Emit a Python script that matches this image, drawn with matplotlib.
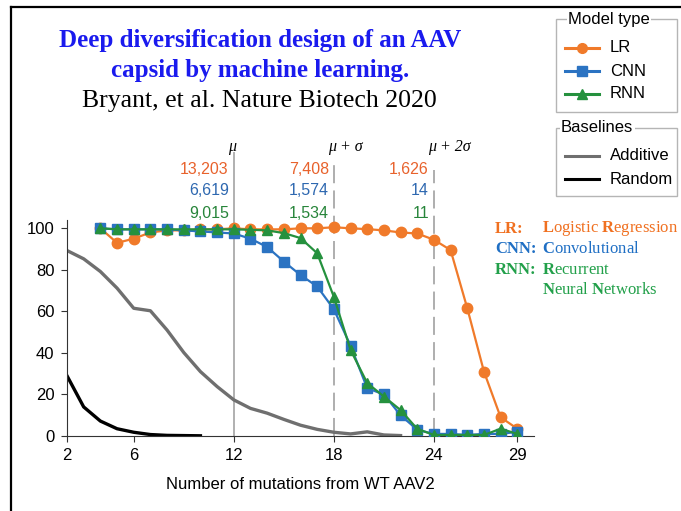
import matplotlib.pyplot as plt
from matplotlib.lines import Line2D
from matplotlib.patches import Rectangle

plt.rcParams['font.family'] = ['Liberation Sans', 'DejaVu Sans']
plt.rcParams['mathtext.fontset'] = 'custom'
plt.rcParams['mathtext.rm'] = 'Liberation Serif'
plt.rcParams['mathtext.bf'] = 'Liberation Serif:bold'

# data
x_models = list(range(4, 30))
lr = [100, 93, 95, 98, 99, 99, 99.5, 99.5, 100, 99.5, 99.5, 99.5, 100, 100, 100.5,
      100, 99.6, 99, 98, 97.5, 94.5, 89.5, 61.5, 31, 9, 3.5]
cnn = [100, 99.5, 99.5, 99.5, 99.5, 99, 98.5, 98, 97.5, 95, 91, 84, 77.5, 72, 61,
       43.5, 23, 20, 10, 3, 1, 1, 0.5, 1, 1, 2]
rnn = [100, 99.5, 99.5, 99.5, 99.5, 99.5, 99.5, 99.5, 99.5, 99.3, 99, 97.7, 95.3, 88, 67,
       41.5, 25.5, 19, 12.5, 3.4, 0.5, 0.5, 0.5, 0.5, 3.5, 1]

x_additive = list(range(2, 23))
additive = [89.3, 85.3, 79.2, 71.2, 61.5, 60.3, 51, 40.2, 31, 23.8, 17.4, 13.3, 11, 8,
            5.2, 3.2, 1.8, 1, 2, 0.5, 0.2]
x_random = list(range(2, 11))
random_bl = [29, 14, 7.2, 3.5, 1.8, 0.7, 0.3, 0.2, 0.1]

thresholds = [12, 18, 24]
threshold_names = ['\u03bc', '\u03bc + \u03c3', '\u03bc + 2\u03c3']
lr_counts = ['13,203', '7,408', '1,626']
cnn_counts = ['6,619', '1,574', '14']
rnn_counts = ['9,015', '1,534', '11']

xticks = [2, 6, 12, 18, 24, 29]
yticks = [0, 20, 40, 60, 80, 100]

c_lr = '#f07a2a'
c_cnn = '#2b73c2'
c_rnn = '#25913e'
c_lr_txt = '#e8622c'
c_cnn_txt = '#2e68b0'
c_rnn_txt = '#27853a'

W, H = 681, 511
fig = plt.figure(figsize=(W / 100, H / 100), dpi=100)


def fx(x):
    return x / W


def fy(y):
    return 1 - y / H


ax = fig.add_axes([fx(67), fy(436), fx(534) - fx(67), fy(220) - fy(436)])
ax.set_xlim(2, 30)
ax.set_ylim(0, 104)

# threshold lines (run above the axes)
ax.plot([12, 12], [0, 136.5], color='#b0b0b0', lw=1.4, clip_on=False, zorder=1)
ax.plot([18, 18], [0, 132.5], color='#a8a8a8', lw=1.3, dashes=(10, 4), clip_on=False, zorder=1)
ax.plot([24, 24], [0, 128], color='#a8a8a8', lw=1.3, dashes=(10, 4), clip_on=False, zorder=1)

ax.plot(x_additive, additive, color='#6f6f6f', lw=2.4, zorder=2)
ax.plot(x_random, random_bl, color='black', lw=2.4, zorder=2)

ax.plot(x_models, lr, color=c_lr, lw=1.6, marker='o', ms=7.5, zorder=3)
ax.plot(x_models, cnn, color=c_cnn, lw=1.6, marker='s', ms=7, zorder=4)
ax.plot(x_models, rnn, color=c_rnn, lw=1.6, marker='^', ms=7.5, zorder=5)

for t, name, a, b, c in zip(thresholds, threshold_names, lr_counts, cnn_counts, rnn_counts):
    ax.text(t - 0.35, 139, name, ha='left', va='center', fontsize=11.5,
            family='Liberation Serif', style='italic', clip_on=False)
    ax.text(t - 0.3, 128.5, a, ha='right', va='center', fontsize=11.5, color=c_lr_txt, clip_on=False)
    ax.text(t - 0.3, 118.3, b, ha='right', va='center', fontsize=11.5, color=c_cnn_txt, clip_on=False)
    ax.text(t - 0.3, 107.3, c, ha='right', va='center', fontsize=11.5, color=c_rnn_txt, clip_on=False)

ax.spines['top'].set_visible(False)
ax.spines['right'].set_visible(False)
ax.spines['left'].set_color('#333333')
ax.spines['bottom'].set_color('#333333')
ax.set_xticks(xticks)
ax.set_yticks(yticks)
ax.tick_params(labelsize=12, length=4, color='#333333', pad=5)
ax.set_xlabel('Number of mutations from WT AAV2', fontsize=12, labelpad=10)

# title block
fig.text(fx(260), fy(47), 'Deep diversification design of an AAV', ha='center', va='baseline',
         fontsize=18, family='Liberation Serif', weight='bold', color='#1a1aee')
fig.text(fx(260), fy(77), 'capsid by machine learning.', ha='center', va='baseline',
         fontsize=18, family='Liberation Serif', weight='bold', color='#1a1aee')
fig.text(fx(259), fy(107), 'Bryant, et al. Nature Biotech 2020', ha='center', va='baseline',
         fontsize=18.5, family='Liberation Serif', color='black')

# frame of the slide
fig.add_artist(Line2D([fx(11), 1], [fy(7), fy(7)], color='black', lw=1.6, transform=fig.transFigure))
fig.add_artist(Line2D([fx(11), fx(11)], [fy(7), 0], color='black', lw=1.6, transform=fig.transFigure))


# legend boxes drawn by hand (title sits on the border)
def legend_box(top, bottom, title, title_x, entries):
    fig.add_artist(Rectangle((fx(556), fy(bottom)), fx(677) - fx(556), fy(top) - fy(bottom),
                             transform=fig.transFigure, fill=False, ec='#b5b5b5', lw=1.0))
    fig.text(fx(title_x), fy(top), title, ha='left', va='center', fontsize=12,
             bbox=dict(fc='white', ec='none', pad=1))
    for y, label, color, marker in entries:
        fig.add_artist(Line2D([fx(565), fx(599)], [fy(y), fy(y)], color=color, lw=2.2,
                              transform=fig.transFigure))
        if marker:
            fig.add_artist(Line2D([fx(582)], [fy(y)], color=color, marker=marker, ms=7,
                                  transform=fig.transFigure))
        fig.text(fx(610), fy(y), label, ha='left', va='center', fontsize=12)


legend_box(19, 112, 'Model type', 568,
           [(48, 'LR', c_lr, 'o'), (71, 'CNN', c_cnn, 's'), (94, 'RNN', c_rnn, '^')])
legend_box(128, 196, 'Baselines', 561,
           [(156, 'Additive', '#6f6f6f', None), (179, 'Random', 'black', None)])

# abbreviation notes
notes = [
    (229, 'LR:', r'$\mathbf{L}$ogistic $\mathbf{R}$egression', '#f07020'),
    (249, 'CNN:', r'$\mathbf{C}$onvolutional', '#1f6fc4'),
    (270, 'RNN:', r'$\mathbf{R}$ecurrent', '#22a04a'),
    (290, '', r'$\mathbf{N}$eural $\mathbf{N}$etworks', '#22a04a'),
]
for y, head, body, color in notes:
    if head:
        fig.text(fx(495), fy(y), head, ha='left', va='center', fontsize=12,
                 family='Liberation Serif', weight='bold', color=color)
    fig.text(fx(542), fy(y), body, ha='left', va='center', fontsize=12,
             family='Liberation Serif', color=color)

fig.savefig('out.png', dpi=100)
